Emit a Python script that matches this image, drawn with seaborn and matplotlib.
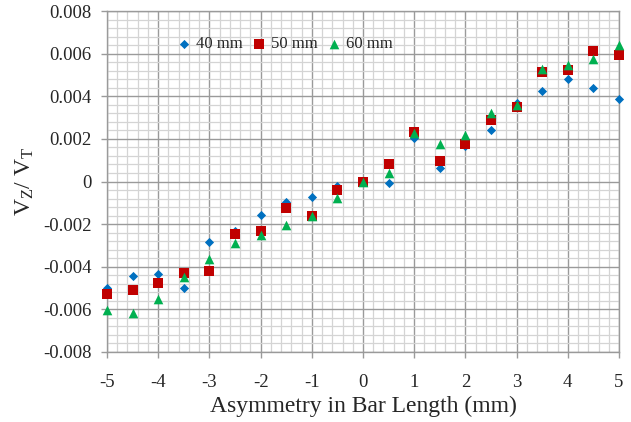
import numpy as np
import pandas as pd
import matplotlib
matplotlib.use("Agg")
import matplotlib.pyplot as plt
from matplotlib.ticker import MultipleLocator, FuncFormatter
import seaborn as sns

x_vals = [-5, -4.5, -4, -3.5, -3, -2.5, -2, -1.5, -1, -0.5, 0, 0.5, 1, 1.5, 2, 2.5, 3, 3.5, 4, 4.5, 5]
y_40mm = [-0.00499, -0.00444, -0.00432, -0.00502, -0.00282, -0.00233, -0.00156, -0.00094, -0.00074, -0.00022, 0.0,
          -0.00006, 0.00202, 0.00064, 0.00166, 0.00243, 0.00366, 0.00424, 0.00482, 0.00440, 0.00385]
y_50mm = [-0.00527, -0.00507, -0.00477, -0.00427, -0.00418, -0.00246, -0.00230, -0.00122, -0.00163, -0.00042, 0.0,
          0.00080, 0.00232, 0.00097, 0.00178, 0.00290, 0.00350, 0.00515, 0.00524, 0.00610, 0.00593]
y_60mm = [-0.00601, -0.00617, -0.00551, -0.00448, -0.00362, -0.00290, -0.00252, -0.00203, -0.00164, -0.00077, 0.0,
          0.00041, 0.00229, 0.00178, 0.00216, 0.00323, 0.00360, 0.00526, 0.00548, 0.00576, 0.00639]
series_names = ["40 mm", "50 mm", "60 mm"]
colors = ["#0070C0", "#C00000", "#00B050"]
markers = ["D", "s", "^"]
sizes = [22, 42, 48]

df = pd.concat([
    pd.DataFrame({"x": x_vals, "y": ys, "series": name})
    for name, ys in zip(series_names, [y_40mm, y_50mm, y_60mm])
], ignore_index=True)

sns.set_theme(style="white")
plt.rcParams["font.family"] = ["Liberation Serif", "DejaVu Serif"]
plt.rcParams["axes.unicode_minus"] = False
plt.rcParams["mathtext.default"] = "regular"

fig = plt.figure(figsize=(6.31, 4.22), dpi=100)
ax = fig.add_axes([107 / 631, 70 / 422, 512 / 631, 341 / 422])

for name, c, m, s in zip(series_names, colors, markers, sizes):
    sub = df[df["series"] == name]
    sns.scatterplot(data=sub, x="x", y="y", color=c, marker=m, s=s, linewidth=0,
                    ax=ax, label=name, zorder=3, clip_on=False)

ax.set_xlim(-5, 5)
ax.set_ylim(-0.008, 0.008)
ax.xaxis.set_major_locator(MultipleLocator(1))
ax.xaxis.set_minor_locator(MultipleLocator(0.2))
ax.yaxis.set_major_locator(MultipleLocator(0.002))
ax.yaxis.set_minor_locator(MultipleLocator(0.0004))
ax.yaxis.set_major_formatter(FuncFormatter(lambda v, p: "0" if abs(v) < 1e-12 else f"{v:.3f}"))
ax.xaxis.set_major_formatter(FuncFormatter(lambda v, p: f"{v:.0f}"))

ax.grid(which="major", color="#9a9a9a", linewidth=1.0, zorder=0)
ax.grid(which="minor", color="#d4d4d4", linewidth=0.9, zorder=0)
ax.set_axisbelow(True)
for sp in ax.spines.values():
    sp.set_color("#9a9a9a")
    sp.set_linewidth(1.0)

ax.tick_params(axis="both", which="major", direction="out", length=4, width=1, color="#9a9a9a",
               labelsize=13.5, bottom=True, left=True)
ax.tick_params(axis="both", which="minor", length=0)
ax.tick_params(axis="x", pad=11.5)
ax.tick_params(axis="y", pad=7)

ax.set_xlabel("Asymmetry in Bar Length (mm)", fontsize=17, labelpad=4)
ax.set_ylabel("V$_{Z}$/ V$_{T}$", fontsize=17, labelpad=5)

leg = ax.legend(ncol=3, frameon=False, loc="upper left", bbox_to_anchor=(0.121, 0.945),
                fontsize=12, handlelength=1.0, handletextpad=0.2, columnspacing=0.5,
                borderaxespad=0)

fig.savefig("out.png", dpi=100)
